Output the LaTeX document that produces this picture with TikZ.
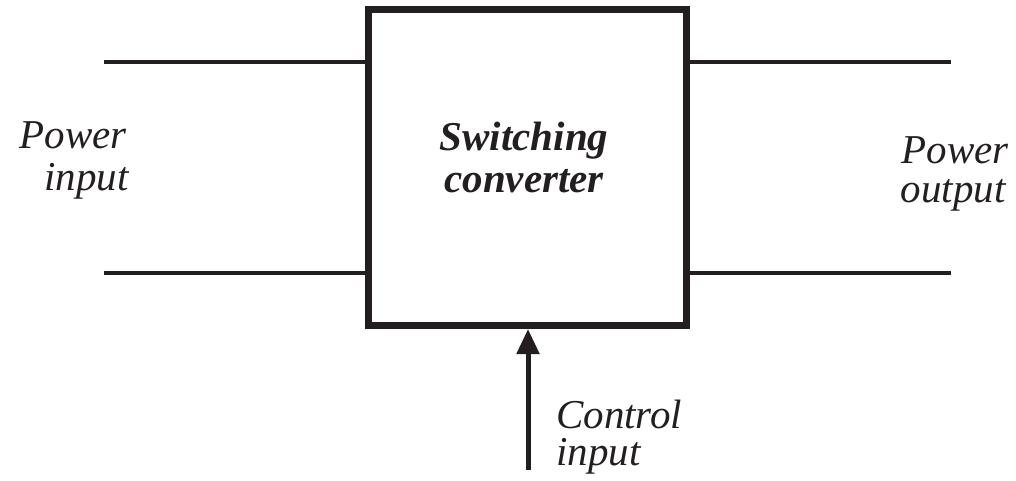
\documentclass[tikz,border=0pt]{standalone}
\usepackage{fontspec}
\setmainfont{Liberation Serif}[
  UprightFont=Liberation Serif,
  ItalicFont=Liberation Serif Italic,
  BoldFont=Liberation Serif Bold,
  BoldItalicFont=Liberation Serif Bold Italic]
\usetikzlibrary{arrows.meta}
\definecolor{ink}{HTML}{231F20}
\begin{document}
\begin{tikzpicture}[x=1pt,y=1pt,
  wire/.style={draw=ink,line width=4pt},
  lbl/.style={text=ink,inner sep=0pt,font=\fontsize{41}{44}\selectfont\itshape},
  blbl/.style={text=ink,inner sep=0pt,font=\fontsize{41}{44}\selectfont\bfseries\itshape},
  conv/.style={draw=ink,line width=7pt,minimum width=318pt,minimum height=316pt,inner sep=0pt}]
\useasboundingbox (0,0) rectangle (1016,-480);
\node[conv] (box) at (527.5,-167.5) {};
\coordinate (li1) at (104,-62);
\coordinate (li2) at (104,-273);
\coordinate (lo1) at (951,-62);
\coordinate (lo2) at (951,-273);
\coordinate (ctl) at (528,-470);
\draw[wire] (li1) -- (li1 -| box.west);
\draw[wire] (li2) -- (li2 -| box.west);
\draw[wire] (lo1) -- (lo1 -| box.east);
\draw[wire] (lo2) -- (lo2 -| box.east);
\draw[draw=ink,line width=5pt,-{Triangle[length=25pt,width=22pt]}] (ctl) -- (ctl |- box.south);
\node[blbl,anchor=base] (sw1) at (524,-150) {Switching};
\node[blbl,anchor=base] (sw2) at (524,-192) {converter};
\node[lbl,anchor=base east] (pi1) at (127,-148) {Power};
\node[lbl,anchor=base east] (pi2) at (129,-190) {input};
\node[lbl,anchor=base] (po1) at (955,-163) {Power};
\node[lbl,anchor=base] (po2) at (953,-202) {output};
\node[lbl,anchor=base west] (ci1) at (556,-428) {Control};
\node[lbl,anchor=base west] (ci2) at (556,-465) {input};
\end{tikzpicture}
\end{document}
